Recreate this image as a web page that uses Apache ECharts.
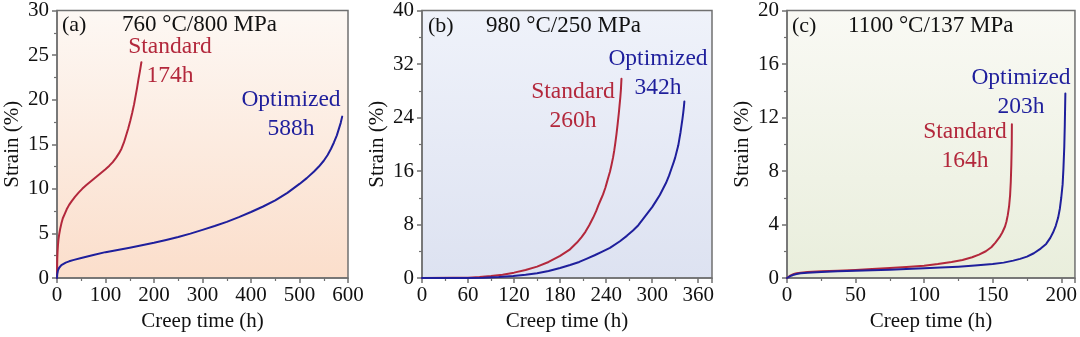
<!DOCTYPE html>
<html>
<head>
<meta charset="utf-8">
<script src="https://cdn.jsdelivr.net/npm/echarts@6/dist/echarts.min.js"></script>
<style>
html,body{margin:0;padding:0;background:#fff;}
#chart{width:1080px;height:337px;}
</style>
</head>
<body>
<div id="chart"></div>
<script>
// ---- Data (creep time h, strain %) ----
const stdA = [[0,0],[0.2,1.2],[0.6,2.2],[1.2,3.0],[2,3.7],[3,4.3],[4.5,4.9],[6.5,5.5],[9,6.1],[12,6.7],[16,7.2],[20,7.7],[25,8.2],[30,8.6],[37,9.1],[45,9.6],[52,10],[60,10.4],[70,10.85],[80,11.3],[90,11.75],[100,12.2],[108,12.6],[115,13],[122,13.5],[128,14],[133,14.5],[138,15.2],[142,15.9],[147,16.8],[151,17.6],[155,18.5],[159,19.5],[162,20.4],[165,21.3],[168,22.3],[171,23.2],[174,24.2]];
const optA = [[0,0],[0.5,0.4],[1,0.6],[2,0.85],[3,1.0],[4.5,1.15],[6,1.3],[9,1.45],[12,1.57],[18,1.73],[25,1.87],[35,2.03],[50,2.25],[75,2.58],[100,2.9],[125,3.15],[150,3.4],[175,3.67],[200,3.95],[225,4.27],[250,4.6],[275,4.98],[300,5.4],[325,5.83],[350,6.3],[375,6.83],[400,7.4],[425,8.02],[450,8.7],[475,9.55],[500,10.55],[515,11.2],[530,11.95],[540,12.5],[550,13.15],[558,13.8],[565,14.5],[571,15.2],[577,16],[581,16.7],[585,17.4],[588,18.1]];
const stdB = [[0,0],[40,0.02],[60,0.05],[75,0.15],[90,0.3],[105,0.5],[120,0.8],[135,1.2],[150,1.7],[165,2.4],[180,3.3],[192,4.2],[202,5.3],[208,6.1],[213,6.9],[218,7.9],[223,9],[227,10],[230,10.9],[233,11.7],[236,12.5],[239,13.5],[241,14.3],[243,15.1],[245,15.9],[247,16.9],[249,18],[250.5,19],[252,20.2],[253.5,21.5],[255,23],[256.5,24.6],[257.5,25.8],[258.5,27],[259.3,28.2],[260,29.8]];
const optB = [[0,0],[60,0.01],[80,0.05],[100,0.15],[119,0.3],[135,0.48],[150,0.7],[165,1.05],[180,1.5],[193,1.95],[205,2.4],[215,2.9],[225,3.4],[235,3.95],[245,4.5],[258,5.5],[267,6.3],[275,7.1],[282,7.9],[288,8.8],[294,9.7],[300,10.6],[305,11.5],[310,12.4],[314,13.3],[318,14.2],[322,15.3],[325,16.3],[328,17.3],[330,18],[332,18.9],[334,19.8],[335.5,20.8],[337,21.8],[338.5,23],[339.5,23.8],[340.5,24.7],[341.3,25.5],[342,26.4]];
const stdC = [[0,0],[1,0.08],[2,0.15],[3.5,0.23],[5,0.3],[7,0.35],[10,0.4],[15,0.45],[25,0.5],[37,0.55],[50,0.6],[62,0.67],[75,0.75],[87,0.83],[100,0.92],[110,1.04],[120,1.2],[128,1.35],[135,1.55],[140,1.75],[145,2.0],[149,2.3],[152,2.65],[155,3.05],[157,3.4],[159,3.85],[160,4.2],[161,4.7],[162,5.4],[162.7,6.2],[163.2,7.2],[163.6,8.5],[163.9,10],[164,11.5]];
const optC = [[0,0],[1,0.07],[2,0.12],[3.5,0.19],[5,0.25],[7,0.3],[10,0.35],[15,0.4],[25,0.45],[37,0.5],[50,0.55],[62,0.58],[75,0.62],[87,0.67],[100,0.72],[112,0.78],[125,0.85],[137,0.94],[150,1.05],[158,1.15],[165,1.3],[170,1.43],[175,1.6],[180,1.85],[185,2.2],[189,2.55],[192,3.0],[194,3.4],[196,3.9],[197.7,4.5],[199,5.2],[200,6],[201,7.0],[201.6,8.2],[202.2,9.8],[202.6,11.5],[203,13.8]];

const panelLetters = ['(a)', '(b)', '(c)'];
const panelTitles = ['760 °C/800 MPa', '980 °C/250 MPa', '1100 °C/137 MPa'];
const stdLabels = ['Standard\n174h', 'Standard\n260h', 'Standard\n164h'];
const optLabels = ['Optimized\n588h', 'Optimized\n342h', 'Optimized\n203h'];
const xMax = [600, 378, 210];
const xInterval = [100, 60, 50];
const yMax = [30, 40, 20];
const yInterval = [5, 8, 4];

// ---- Style ----
const FONT = "'Liberation Serif','Times New Roman',serif";
const RED = '#b3283c';
const BLUE = '#1f1f9c';
const AXIS = '#707070';
const grids = [
  {left: 57, top: 10, width: 291, height: 271},
  {left: 422, top: 10, width: 290, height: 271},
  {left: 787, top: 10, width: 290, height: 271}
];
const bgStops = [
  ['#fdf8f4', '#fbdecb'],
  ['#eff2fa', '#dde2f1'],
  ['#f9f9f4', '#e9eedc']
];

const option = {
  animation: false,
  backgroundColor: '#ffffff',
  textStyle: {fontFamily: FONT},
  grid: grids.map((g, i) => Object.assign({
    show: true,
    borderColor: AXIS,
    borderWidth: 1.5,
    backgroundColor: {type: 'linear', x: 0, y: 0, x2: 0, y2: 1,
      colorStops: [{offset: 0, color: bgStops[i][0]}, {offset: 1, color: bgStops[i][1]}]}
  }, g)),
  xAxis: [0, 1, 2].map(i => ({
    type: 'value', gridIndex: i, min: 0, max: xMax[i], interval: xInterval[i],
    name: 'Creep time (h)', nameLocation: 'middle', nameGap: 33,
    nameTextStyle: {fontFamily: FONT, fontSize: 21, color: '#111'},
    axisLine: {show: true, lineStyle: {color: AXIS, width: 1.5}},
    axisTick: {show: true, inside: false, length: 5, lineStyle: {color: AXIS, width: 1.5}},
    minorTick: {show: true, splitNumber: 2, length: 3, lineStyle: {color: AXIS, width: 1.2}},
    axisLabel: {fontFamily: FONT, fontSize: 21, color: '#111', margin: 7,
      formatter: v => (v % xInterval[i] === 0 ? String(v) : '')},
    splitLine: {show: false}
  })),
  yAxis: [0, 1, 2].map(i => ({
    type: 'value', gridIndex: i, min: 0, max: yMax[i], interval: yInterval[i],
    name: 'Strain (%)', nameLocation: 'middle', nameGap: 34,
    nameTextStyle: {fontFamily: FONT, fontSize: 21, color: '#111'},
    axisLine: {show: true, lineStyle: {color: AXIS, width: 1.5}},
    axisTick: {show: true, inside: false, length: 5, lineStyle: {color: AXIS, width: 1.5}},
    minorTick: {show: true, splitNumber: 2, length: 3, lineStyle: {color: AXIS, width: 1.2}},
    axisLabel: {fontFamily: FONT, fontSize: 21, color: '#111', margin: 8},
    splitLine: {show: false}
  })),
  series: [
    [stdA, RED, 0], [optA, BLUE, 0],
    [stdB, RED, 1], [optB, BLUE, 1],
    [stdC, RED, 2], [optC, BLUE, 2]
  ].map(([d, c, i]) => ({
    type: 'line', xAxisIndex: i, yAxisIndex: i, data: d,
    showSymbol: false, smooth: false,
    lineStyle: {color: c, width: 2, join: 'round', cap: 'round'}, z: 3
  })),
  graphic: []
};

// Panel letters, titles and annotations
const letterPos = [[62, 25], [428, 26], [792, 26]];
const titlePos = [[122, 25], [486, 26], [848, 26]];
const stdPos = [[170, 61], [573, 106], [965, 146]];
const optPos = [[291, 114], [658, 73], [1021, 92]];
for (let i = 0; i < 3; i++) {
  option.graphic.push({type: 'text', x: letterPos[i][0], y: letterPos[i][1], z: 10,
    style: {text: panelLetters[i], font: '22px ' + FONT, fill: '#111', textVerticalAlign: 'middle', textAlign: 'left'}});
  option.graphic.push({type: 'text', x: titlePos[i][0], y: titlePos[i][1], z: 10,
    style: {text: panelTitles[i], font: '23px ' + FONT, fill: '#111', textVerticalAlign: 'middle', textAlign: 'left'}});
  option.graphic.push({type: 'text', x: stdPos[i][0], y: stdPos[i][1], z: 10,
    style: {text: stdLabels[i], font: '23.5px ' + FONT, fill: RED, textVerticalAlign: 'middle', textAlign: 'center', lineHeight: 29}});
  option.graphic.push({type: 'text', x: optPos[i][0], y: optPos[i][1], z: 10,
    style: {text: optLabels[i], font: '23.5px ' + FONT, fill: BLUE, textVerticalAlign: 'middle', textAlign: 'center', lineHeight: 29}});
}

const chart = echarts.init(document.getElementById('chart'), null, {renderer: 'canvas'});
chart.setOption(option);
</script>
</body>
</html>
